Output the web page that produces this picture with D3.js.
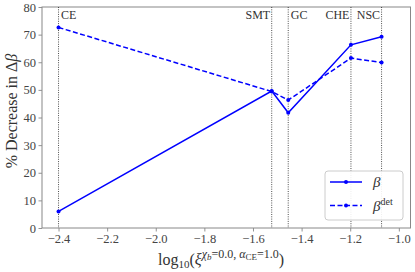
<!DOCTYPE html>
<html>
<head>
<meta charset="utf-8">
<script src="https://cdn.jsdelivr.net/npm/d3@7"></script>
<style>
  body { margin: 0; background: #fff; }
  text { font-family: "Liberation Serif", "DejaVu Serif", serif; }
</style>
</head>
<body>
<div id="chart"></div>
<script>
// transition points (log10 xi) and their names
var names = ["CE", "SMT", "GC", "CHE", "NSC"];
var logXi = [-2.4, -1.523, -1.455, -1.197, -1.071];

// % decrease in delta beta
var beta = [6.0, 49.6, 41.7, 66.3, 69.2];
var betaDet = [72.6, 49.4, 46.3, 61.5, 59.9];

var xTicks = [-2.4, -2.2, -2.0, -1.8, -1.6, -1.4, -1.2, -1.0];
var yTicks = [0, 10, 20, 30, 40, 50, 60, 70, 80];

// which side of the dotted line each name sits on
var labelSide = ["right", "left", "right", "left", "left"];

var W = 415, H = 272;
var margin = {top: 7, right: 4.5, bottom: 44, left: 42};

var svg = d3.select("#chart").append("svg")
    .attr("width", W)
    .attr("height", H);

var x = d3.scaleLinear().domain([-2.468, -0.952]).range([margin.left, W - margin.right]);
var y = d3.scaleLinear().domain([0, 80]).range([H - margin.bottom, margin.top]);

var fmt = function(d) { return d3.format(".1f")(d).replace("-", "\u2212"); };

// axes
var gx = svg.append("g")
    .attr("transform", "translate(0," + (H - margin.bottom) + ")")
    .call(d3.axisBottom(x).tickValues(xTicks).tickSize(3.5).tickPadding(3).tickFormat(fmt));
var gy = svg.append("g")
    .attr("transform", "translate(" + margin.left + ",0)")
    .call(d3.axisLeft(y).tickValues(yTicks).tickSize(3.5).tickPadding(2.5));

[gx, gy].forEach(function(g) {
    g.attr("font-family", null).attr("font-size", null);
    g.select(".domain").remove();
    g.selectAll(".tick line").attr("stroke", "#777").attr("stroke-width", 0.8);
    g.selectAll(".tick text")
        .attr("fill", "#444")
        .style("font-size", "12.5px");
});

// frame
svg.append("rect")
    .attr("x", margin.left)
    .attr("y", margin.top)
    .attr("width", W - margin.right - margin.left)
    .attr("height", H - margin.bottom - margin.top)
    .attr("fill", "none")
    .attr("stroke", "#888")
    .attr("stroke-width", 1);

// dotted vertical lines with names
names.forEach(function(n, i) {
    svg.append("line")
        .attr("x1", x(logXi[i])).attr("x2", x(logXi[i]))
        .attr("y1", margin.top).attr("y2", H - margin.bottom)
        .attr("stroke", "#222")
        .attr("stroke-width", 0.8)
        .attr("stroke-dasharray", "1,1.3");
    svg.append("text")
        .attr("x", x(logXi[i]) + (labelSide[i] == "right" ? 2.5 : -1.5))
        .attr("y", i == 0 ? 18.5 : 19)
        .attr("text-anchor", labelSide[i] == "right" ? "start" : "end")
        .attr("fill", "#333")
        .style("font-size", "12px")
        .text(n);
});

var line = d3.line()
    .x(function(d, i) { return x(logXi[i]); })
    .y(function(d) { return y(d); });

function drawSeries(vals, dash) {
    svg.append("path")
        .datum(vals)
        .attr("d", line)
        .attr("fill", "none")
        .attr("stroke", "#0000ff")
        .attr("stroke-width", 1.5)
        .attr("stroke-dasharray", dash);
    svg.selectAll(null)
        .data(vals)
        .enter().append("circle")
        .attr("cx", function(d, i) { return x(logXi[i]); })
        .attr("cy", function(d) { return y(d); })
        .attr("r", 2)
        .attr("fill", "#0000ff");
}
drawSeries(beta, null);
drawSeries(betaDet, "5,2.5");

// legend
var lg = svg.append("g").attr("transform", "translate(325,171)");
lg.append("rect")
    .attr("width", 78).attr("height", 49)
    .attr("rx", 3)
    .attr("fill", "#fff")
    .attr("fill-opacity", 0.9)
    .attr("stroke", "#ccc")
    .attr("stroke-width", 1);
[{dash: null, y: 11}, {dash: "5,2.5", y: 34.5}].forEach(function(e) {
    lg.append("line")
        .attr("x1", 5).attr("x2", 37)
        .attr("y1", e.y).attr("y2", e.y)
        .attr("stroke", "#0000ff")
        .attr("stroke-width", 1.5)
        .attr("stroke-dasharray", e.dash);
    lg.append("circle").attr("cx", 21).attr("cy", e.y).attr("r", 2).attr("fill", "#0000ff");
});
lg.append("text")
    .attr("x", 48).attr("y", 16)
    .attr("fill", "#333")
    .style("font-size", "15px")
    .style("font-style", "italic")
    .text("\u03b2");
var t2 = lg.append("text")
    .attr("x", 48).attr("y", 40)
    .attr("fill", "#333")
    .style("font-size", "15px");
t2.append("tspan").style("font-style", "italic").text("\u03b2");
t2.append("tspan").attr("dy", -6).style("font-size", "10px").text("det");

// axis labels
var xl = svg.append("text")
    .attr("x", 158).attr("y", 265)
    .attr("fill", "#333")
    .style("font-size", "16px");
xl.append("tspan").text("log");
xl.append("tspan").attr("dy", 3).style("font-size", "11px").text("10");
xl.append("tspan").attr("dy", -3).text("(");
xl.append("tspan").style("font-style", "italic").text("\u03be");
xl.append("tspan").attr("dy", -7).style("font-size", "12px").style("font-style", "italic").text("\u03c7");
xl.append("tspan").attr("dy", 2).style("font-size", "9px").style("font-style", "italic").text("b");
xl.append("tspan").attr("dy", -2).style("font-size", "12px").text("=0.0, ");
xl.append("tspan").style("font-size", "12px").style("font-style", "italic").text("\u03b1");
xl.append("tspan").attr("dy", 2).style("font-size", "9px").text("CE");
xl.append("tspan").attr("dy", -2).style("font-size", "12px").text("=1.0");
xl.append("tspan").attr("dy", 7).text(")");

var yl = svg.append("text")
    .attr("transform", "translate(17,111) rotate(-90)")
    .attr("text-anchor", "middle")
    .attr("fill", "#333")
    .style("font-size", "16px");
yl.append("tspan").text("% Decrease in \u0394");
yl.append("tspan").style("font-style", "italic").text("\u03b2");
</script>
</body>
</html>
